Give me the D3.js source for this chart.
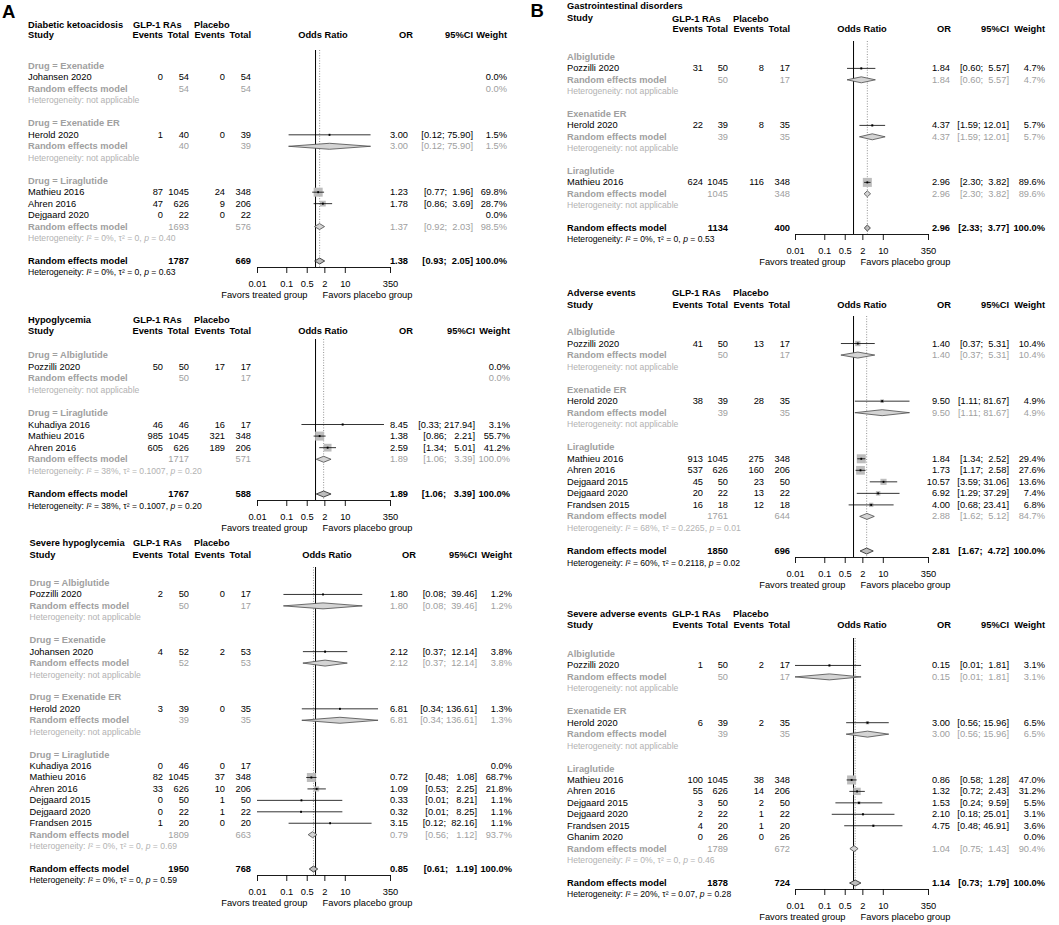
<!DOCTYPE html>
<html>
<head>
<meta charset="utf-8">
<script src="https://cdnjs.cloudflare.com/ajax/libs/d3/7.8.5/d3.min.js"></script>
<style>
body { margin: 0; background: #fff; }
svg text { font-family: "Liberation Sans", Arial, sans-serif; white-space: pre; }
</style>
</head>
<body>
<svg id="chart" width="1059" height="925"></svg>
<script>

var orTicks = [0.01, 0.1, 0.5, 2, 10, 350];

// A: diabetic ketoacidosis
var dkaStudies = [
  {g:"Exenatide", s:"Johansen 2020", e1:0, n1:54, e2:0, n2:54, or:null, lo:null, hi:null, w:0.0},
  {g:"Exenatide ER", s:"Herold 2020", e1:1, n1:40, e2:0, n2:39, or:3.00, lo:0.12, hi:75.90, w:1.5},
  {g:"Liraglutide", s:"Mathieu 2016", e1:87, n1:1045, e2:24, n2:348, or:1.23, lo:0.77, hi:1.96, w:69.8},
  {g:"Liraglutide", s:"Ahren 2016", e1:47, n1:626, e2:9, n2:206, or:1.78, lo:0.86, hi:3.69, w:28.7},
  {g:"Liraglutide", s:"Dejgaard 2020", e1:0, n1:22, e2:0, n2:22, or:null, lo:null, hi:null, w:0.0}
];
var dkaGroups = [
  {g:"Exenatide", n1:54, n2:54, or:null, lo:null, hi:null, w:0.0, het:null},
  {g:"Exenatide ER", n1:40, n2:39, or:3.00, lo:0.12, hi:75.90, w:1.5, het:null},
  {g:"Liraglutide", n1:1693, n2:576, or:1.37, lo:0.92, hi:2.03, w:98.5, het:["0%", "0", "0.40"]}
];
var dkaTotal = {n1:1787, n2:669, or:1.38, lo:0.93, hi:2.05, w:100.0, het:["0%", "0", "0.63"]};

// A: hypoglycemia
var hypoStudies = [
  {g:"Albiglutide", s:"Pozzilli 2020", e1:50, n1:50, e2:17, n2:17, or:null, lo:null, hi:null, w:0.0},
  {g:"Liraglutide", s:"Kuhadiya 2016", e1:46, n1:46, e2:16, n2:17, or:8.45, lo:0.33, hi:217.94, w:3.1},
  {g:"Liraglutide", s:"Mathieu 2016", e1:985, n1:1045, e2:321, n2:348, or:1.38, lo:0.86, hi:2.21, w:55.7},
  {g:"Liraglutide", s:"Ahren 2016", e1:605, n1:626, e2:189, n2:206, or:2.59, lo:1.34, hi:5.01, w:41.2}
];
var hypoGroups = [
  {g:"Albiglutide", n1:50, n2:17, or:null, lo:null, hi:null, w:0.0, het:null},
  {g:"Liraglutide", n1:1717, n2:571, or:1.89, lo:1.06, hi:3.39, w:100.0, het:["38%", "0.1007", "0.20"]}
];
var hypoTotal = {n1:1767, n2:588, or:1.89, lo:1.06, hi:3.39, w:100.0, het:["38%", "0.1007", "0.20"]};

// A: severe hypoglycemia
var sevHypoStudies = [
  {g:"Albiglutide", s:"Pozzilli 2020", e1:2, n1:50, e2:0, n2:17, or:1.80, lo:0.08, hi:39.46, w:1.2},
  {g:"Exenatide", s:"Johansen 2020", e1:4, n1:52, e2:2, n2:53, or:2.12, lo:0.37, hi:12.14, w:3.8},
  {g:"Exenatide ER", s:"Herold 2020", e1:3, n1:39, e2:0, n2:35, or:6.81, lo:0.34, hi:136.61, w:1.3},
  {g:"Liraglutide", s:"Kuhadiya 2016", e1:0, n1:46, e2:0, n2:17, or:null, lo:null, hi:null, w:0.0},
  {g:"Liraglutide", s:"Mathieu 2016", e1:82, n1:1045, e2:37, n2:348, or:0.72, lo:0.48, hi:1.08, w:68.7},
  {g:"Liraglutide", s:"Ahren 2016", e1:33, n1:626, e2:10, n2:206, or:1.09, lo:0.53, hi:2.25, w:21.8},
  {g:"Liraglutide", s:"Dejgaard 2015", e1:0, n1:50, e2:1, n2:50, or:0.33, lo:0.01, hi:8.21, w:1.1},
  {g:"Liraglutide", s:"Dejgaard 2020", e1:0, n1:22, e2:1, n2:22, or:0.32, lo:0.01, hi:8.25, w:1.1},
  {g:"Liraglutide", s:"Frandsen 2015", e1:1, n1:20, e2:0, n2:20, or:3.15, lo:0.12, hi:82.16, w:1.1}
];
var sevHypoGroups = [
  {g:"Albiglutide", n1:50, n2:17, or:1.80, lo:0.08, hi:39.46, w:1.2, het:null},
  {g:"Exenatide", n1:52, n2:53, or:2.12, lo:0.37, hi:12.14, w:3.8, het:null},
  {g:"Exenatide ER", n1:39, n2:35, or:6.81, lo:0.34, hi:136.61, w:1.3, het:null},
  {g:"Liraglutide", n1:1809, n2:663, or:0.79, lo:0.56, hi:1.12, w:93.7, het:["0%", "0", "0.69"]}
];
var sevHypoTotal = {n1:1950, n2:768, or:0.85, lo:0.61, hi:1.19, w:100.0, het:["0%", "0", "0.59"]};

// B: gastrointestinal disorders
var giStudies = [
  {g:"Albiglutide", s:"Pozzilli 2020", e1:31, n1:50, e2:8, n2:17, or:1.84, lo:0.60, hi:5.57, w:4.7},
  {g:"Exenatide ER", s:"Herold 2020", e1:22, n1:39, e2:8, n2:35, or:4.37, lo:1.59, hi:12.01, w:5.7},
  {g:"Liraglutide", s:"Mathieu 2016", e1:624, n1:1045, e2:116, n2:348, or:2.96, lo:2.30, hi:3.82, w:89.6}
];
var giGroups = [
  {g:"Albiglutide", n1:50, n2:17, or:1.84, lo:0.60, hi:5.57, w:4.7, het:null},
  {g:"Exenatide ER", n1:39, n2:35, or:4.37, lo:1.59, hi:12.01, w:5.7, het:null},
  {g:"Liraglutide", n1:1045, n2:348, or:2.96, lo:2.30, hi:3.82, w:89.6, het:null}
];
var giTotal = {n1:1134, n2:400, or:2.96, lo:2.33, hi:3.77, w:100.0, het:["0%", "0", "0.53"]};

// B: adverse events
var aeStudies = [
  {g:"Albiglutide", s:"Pozzilli 2020", e1:41, n1:50, e2:13, n2:17, or:1.40, lo:0.37, hi:5.31, w:10.4},
  {g:"Exenatide ER", s:"Herold 2020", e1:38, n1:39, e2:28, n2:35, or:9.50, lo:1.11, hi:81.67, w:4.9},
  {g:"Liraglutide", s:"Mathieu 2016", e1:913, n1:1045, e2:275, n2:348, or:1.84, lo:1.34, hi:2.52, w:29.4},
  {g:"Liraglutide", s:"Ahren 2016", e1:537, n1:626, e2:160, n2:206, or:1.73, lo:1.17, hi:2.58, w:27.6},
  {g:"Liraglutide", s:"Dejgaard 2015", e1:45, n1:50, e2:23, n2:50, or:10.57, lo:3.59, hi:31.06, w:13.6},
  {g:"Liraglutide", s:"Dejgaard 2020", e1:20, n1:22, e2:13, n2:22, or:6.92, lo:1.29, hi:37.29, w:7.4},
  {g:"Liraglutide", s:"Frandsen 2015", e1:16, n1:18, e2:12, n2:18, or:4.00, lo:0.68, hi:23.41, w:6.8}
];
var aeGroups = [
  {g:"Albiglutide", n1:50, n2:17, or:1.40, lo:0.37, hi:5.31, w:10.4, het:null},
  {g:"Exenatide ER", n1:39, n2:35, or:9.50, lo:1.11, hi:81.67, w:4.9, het:null},
  {g:"Liraglutide", n1:1761, n2:644, or:2.88, lo:1.62, hi:5.12, w:84.7, het:["68%", "0.2265", "0.01"]}
];
var aeTotal = {n1:1850, n2:696, or:2.81, lo:1.67, hi:4.72, w:100.0, het:["60%", "0.2118", "0.02"]};

// B: severe adverse events
var saeStudies = [
  {g:"Albiglutide", s:"Pozzilli 2020", e1:1, n1:50, e2:2, n2:17, or:0.15, lo:0.01, hi:1.81, w:3.1},
  {g:"Exenatide ER", s:"Herold 2020", e1:6, n1:39, e2:2, n2:35, or:3.00, lo:0.56, hi:15.96, w:6.5},
  {g:"Liraglutide", s:"Mathieu 2016", e1:100, n1:1045, e2:38, n2:348, or:0.86, lo:0.58, hi:1.28, w:47.0},
  {g:"Liraglutide", s:"Ahren 2016", e1:55, n1:626, e2:14, n2:206, or:1.32, lo:0.72, hi:2.43, w:31.2},
  {g:"Liraglutide", s:"Dejgaard 2015", e1:3, n1:50, e2:2, n2:50, or:1.53, lo:0.24, hi:9.59, w:5.5},
  {g:"Liraglutide", s:"Dejgaard 2020", e1:2, n1:22, e2:1, n2:22, or:2.10, lo:0.18, hi:25.01, w:3.1},
  {g:"Liraglutide", s:"Frandsen 2015", e1:4, n1:20, e2:1, n2:20, or:4.75, lo:0.48, hi:46.91, w:3.6},
  {g:"Liraglutide", s:"Ghanim 2020", e1:0, n1:26, e2:0, n2:26, or:null, lo:null, hi:null, w:0.0}
];
var saeGroups = [
  {g:"Albiglutide", n1:50, n2:17, or:0.15, lo:0.01, hi:1.81, w:3.1, het:null},
  {g:"Exenatide ER", n1:39, n2:35, or:3.00, lo:0.56, hi:15.96, w:6.5, het:null},
  {g:"Liraglutide", n1:1789, n2:672, or:1.04, lo:0.75, hi:1.43, w:90.4, het:["0%", "0", "0.46"]}
];
var saeTotal = {n1:1878, n2:724, or:1.14, lo:0.73, hi:1.79, w:100.0, het:["20%", "0.07", "0.28"]};


var svg = d3.select("#chart");
var FS = 9.3, HETFS = 8.6;
var GRAY = "#a0a0a0", HETGRAY = "#b2b2b2";

function txt(g, x, y, s, anchor, o) {
  o = o || {};
  return g.append("text")
    .attr("x", x).attr("y", y)
    .attr("text-anchor", anchor || "start")
    .attr("dominant-baseline", "central")
    .attr("font-size", o.size || FS)
    .attr("font-weight", o.bold ? "bold" : "normal")
    .attr("fill", o.fill || "#000")
    .text(s);
}

function hetText(g, x, y, het, fill) {
  var t = txt(g, x, y, "Heterogeneity: ", "start", {size: HETFS, fill: fill});
  if (het == null) { t.text("Heterogeneity: not applicable"); return; }
  t.append("tspan").attr("font-style", "italic").text("I");
  t.append("tspan").text("\u00B2 = " + het[0] + ", \u03C4\u00B2 = " + het[1] + ", ");
  t.append("tspan").attr("font-style", "italic").text("p");
  t.append("tspan").text(" = " + het[2]);
}

function forest(c, studies, groups, total) {
  var g = svg.append("g");
  var x = d3.scaleLog().domain([0.01, 350]).range([c.fx0, c.fx1]);

  // row list: subgroup label, studies, subgroup model, heterogeneity, gap
  var rows = [];
  groups.forEach(function(gr) {
    rows.push({type: "label", text: c.prefix + gr.g});
    studies.filter(d => d.g == gr.g).forEach(d => rows.push({type: "study", d: d}));
    rows.push({type: "sub", d: gr});
    rows.push({type: "het", het: gr.het, sub: true});
    rows.push({type: "blank"});
  });
  rows.push({type: "total", d: total});
  rows.push({type: "het", het: total.het, sub: false});

  var y = d3.scaleLinear().domain([0, rows.length - 2]).range([c.firstY, c.totalY]);
  var box = d3.scaleSqrt().domain([0, d3.max(studies, d => d.w)]).range([0, 9]);
  var hiLen = d3.max(studies.concat(groups, [total]).filter(d => d.hi != null), d => d.hi.toFixed(2).length);
  function ci(d) {
    var h = d.hi.toFixed(2);
    while (h.length < hiLen) h = " " + h;
    return "[" + d.lo.toFixed(2) + "; " + h + "]";
  }

  // header
  txt(g, c.studyX, c.titleY, c.title, "start", {bold: true});
  txt(g, c.studyX, c.studyY, "Study", "start", {bold: true});
  txt(g, c.glpX, c.line1Y, "GLP-1 RAs", "start", {bold: true});
  txt(g, c.plX, c.line1Y, "Placebo", "start", {bold: true});
  txt(g, c.ev1, c.line2Y, "Events", "end", {bold: true});
  txt(g, c.tot1, c.line2Y, "Total", "end", {bold: true});
  txt(g, c.ev2, c.line2Y, "Events", "end", {bold: true});
  txt(g, c.tot2, c.line2Y, "Total", "end", {bold: true});
  txt(g, c.orc, c.line2Y, "Odds Ratio", "middle", {bold: true});
  txt(g, c.orH, c.line2Y, "OR", "middle", {bold: true});
  txt(g, c.ciR, c.line2Y, "95%CI", "end", {bold: true});
  txt(g, c.wR, c.line2Y, "Weight", "end", {bold: true});

  var axisY = c.totalY + 6, topY = c.firstY - 16;

  // reference lines
  g.append("line").attr("x1", x(total.or)).attr("x2", x(total.or))
    .attr("y1", topY).attr("y2", axisY)
    .attr("stroke", "#777").attr("stroke-width", 0.8).attr("stroke-dasharray", "1,1.6");
  g.append("line").attr("x1", x(1)).attr("x2", x(1))
    .attr("y1", topY).attr("y2", axisY)
    .attr("stroke", "#000").attr("stroke-width", 1);

  function diamond(d, yy, fill, stroke) {
    var h = 3;
    g.append("path")
      .attr("d", "M" + x(d.lo) + "," + yy + "L" + x(d.or) + "," + (yy - h) +
                 "L" + x(d.hi) + "," + yy + "L" + x(d.or) + "," + (yy + h) + "Z")
      .attr("fill", fill).attr("stroke", stroke).attr("stroke-width", 0.8);
  }

  rows.forEach(function(r, i) {
    var yy = y(i), d = r.d;
    if (r.type == "label") {
      txt(g, c.studyX, yy, r.text, "start", {fill: GRAY, bold: true});
    } else if (r.type == "study") {
      txt(g, c.studyX, yy, d.s);
      txt(g, c.ev1, yy, d.e1, "end");
      txt(g, c.tot1, yy, d.n1, "end");
      txt(g, c.ev2, yy, d.e2, "end");
      txt(g, c.tot2, yy, d.n2, "end");
      txt(g, c.wR, yy, d.w.toFixed(1) + "%", "end");
      if (d.or != null) {
        txt(g, c.orR, yy, d.or.toFixed(2), "end");
        txt(g, c.ciR, yy, ci(d), "end");
        var s = box(d.w);
        g.append("rect").attr("x", x(d.or) - s / 2).attr("y", yy - s / 2)
          .attr("width", s).attr("height", s).attr("fill", "#bdbdbd");
        g.append("line").attr("x1", x(d.lo)).attr("x2", x(d.hi))
          .attr("y1", yy).attr("y2", yy).attr("stroke", "#000").attr("stroke-width", 0.8);
        g.append("rect").attr("x", x(d.or) - 0.9).attr("y", yy - 1)
          .attr("width", 1.8).attr("height", 2).attr("fill", "#000");
      }
    } else if (r.type == "sub") {
      txt(g, c.studyX, yy, "Random effects model", "start", {fill: GRAY, bold: true});
      txt(g, c.tot1, yy, d.n1, "end", {fill: GRAY});
      txt(g, c.tot2, yy, d.n2, "end", {fill: GRAY});
      txt(g, c.wR, yy, d.w.toFixed(1) + "%", "end", {fill: GRAY});
      if (d.or != null) {
        txt(g, c.orR, yy, d.or.toFixed(2), "end", {fill: GRAY});
        txt(g, c.ciR, yy, ci(d), "end", {fill: GRAY});
        diamond(d, yy, "#d4d4d4", "#4a4a4a");
      }
    } else if (r.type == "total") {
      txt(g, c.studyX, yy, "Random effects model", "start", {bold: true});
      txt(g, c.tot1, yy, d.n1, "end", {bold: true});
      txt(g, c.tot2, yy, d.n2, "end", {bold: true});
      txt(g, c.orR, yy, d.or.toFixed(2), "end", {bold: true});
      txt(g, c.ciR, yy, ci(d), "end", {bold: true});
      txt(g, c.wR, yy, d.w.toFixed(1) + "%", "end", {bold: true});
      diamond(d, yy, "#bcbcbc", "#222");
    } else if (r.type == "het") {
      hetText(g, c.studyX, yy, r.het, r.sub ? HETGRAY : "#000");
    }
  });

  // odds ratio axis
  var ax = g.append("g").attr("transform", "translate(0," + axisY + ")")
    .call(d3.axisBottom(x).tickValues(orTicks).tickFormat(d => String(d))
      .tickSize(6).tickSizeOuter(0).tickPadding(7));
  ax.attr("font-family", null).attr("font-size", null);
  ax.select(".domain").attr("stroke", "#000").attr("stroke-width", 0.9);
  ax.selectAll(".tick line").attr("stroke", "#000").attr("stroke-width", 0.9);
  ax.selectAll(".tick text").attr("font-size", FS).attr("fill", "#000");

  txt(g, x(1) - 8, axisY + 28, "Favors treated group", "end");
  txt(g, x(1) + 7, axisY + 28, "Favors placebo group", "start");
}

var colA = {prefix: "Drug = ", studyX: 28, glpX: 133, plX: 194, ev1: 163, tot1: 189, ev2: 225, tot2: 251,
            fx0: 257, fx1: 390, orc: 323, orH: 406, orR: 408};
var colB = {prefix: "", studyX: 567, glpX: 672, plX: 733, ev1: 703, tot1: 728, ev2: 764, tot2: 790,
            fx0: 795, fx1: 928, orc: 862, orH: 944, orR: 950, ciR: 1009, wR: 1045};

forest(Object.assign({}, colA, {title: "Diabetic ketoacidosis", titleY: 25, studyY: 35, line1Y: 25, line2Y: 35,
  firstY: 66, totalY: 261, ciR: 473, wR: 507}), dkaStudies, dkaGroups, dkaTotal);
forest(Object.assign({}, colA, {title: "Hypoglycemia", titleY: 320, studyY: 331, line1Y: 320, line2Y: 331,
  firstY: 355, totalY: 494, ciR: 475, wR: 510}), hypoStudies, hypoGroups, hypoTotal);
forest(Object.assign({}, colA, {title: "Severe hypoglycemia", studyX: 29.5, titleY: 543, studyY: 555, line1Y: 543, line2Y: 555,
  firstY: 583, totalY: 869, ciR: 477, wR: 512, orc: 327, orH: 409}), sevHypoStudies, sevHypoGroups, sevHypoTotal);

forest(Object.assign({}, colB, {title: "Gastrointestinal disorders", titleY: 6, studyY: 18, line1Y: 19, line2Y: 29,
  firstY: 57, totalY: 228}), giStudies, giGroups, giTotal);
forest(Object.assign({}, colB, {title: "Adverse events", titleY: 293, studyY: 305, line1Y: 293, line2Y: 305,
  firstY: 332, totalY: 551}), aeStudies, aeGroups, aeTotal);
forest(Object.assign({}, colB, {title: "Severe adverse events", titleY: 614, studyY: 625, line1Y: 614, line2Y: 625,
  firstY: 654, totalY: 883}), saeStudies, saeGroups, saeTotal);

// panel letters
svg.append("text").attr("x", 2).attr("y", 18.3).attr("font-size", 18.5).attr("font-weight", "bold").text("A");
svg.append("text").attr("x", 530.5).attr("y", 16.7).attr("font-size", 18.5).attr("font-weight", "bold").text("B");

</script>
</body>
</html>
